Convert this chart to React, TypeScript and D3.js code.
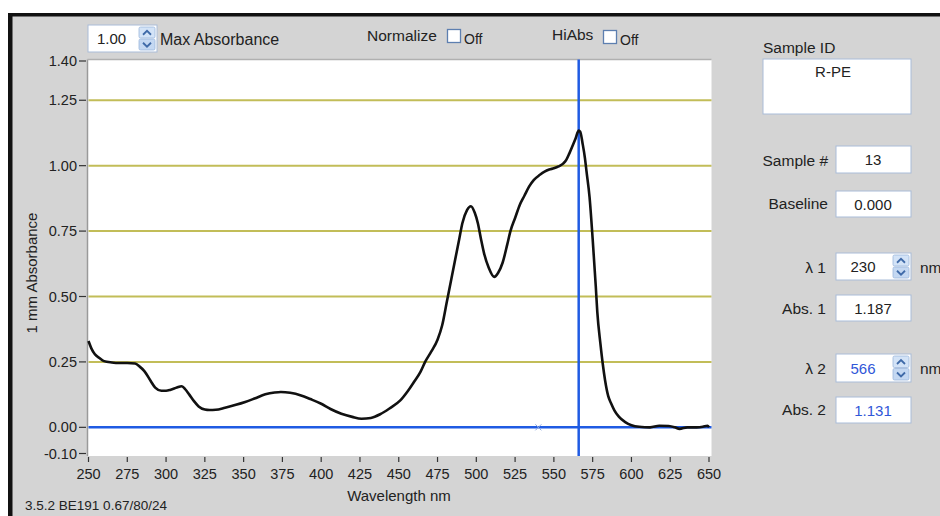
import React from "react";
import * as d3 from "d3";

// ---- data ----
const wavelengths = [
  250, 252, 254, 257, 260, 265, 270, 275, 280, 283, 286, 290, 293, 297, 300, 303, 307, 310, 312, 315,
  318, 321, 325, 328, 332, 338, 345, 351, 357, 364, 370, 374, 380, 387, 393, 400, 406, 413, 420, 426,
  432, 438, 444, 451, 456, 460, 464, 467, 471, 475, 478, 481, 484, 486, 489, 491, 494, 496.5, 499, 501,
  503, 505, 508, 511.5, 514, 517, 520, 522, 525, 528, 531, 534, 537, 541, 544, 547, 550, 553, 556, 558,
  560, 562, 564, 566, 567, 568.5, 570, 571, 573, 575, 577, 578, 580, 581.5, 583, 585, 587, 589, 592, 596,
  600, 605, 612, 618, 624, 628, 631, 636, 642, 646, 649, 650,
];
const absorbance = [
  0.33, 0.3, 0.28, 0.265, 0.253, 0.248, 0.246, 0.246, 0.244, 0.232, 0.215, 0.178, 0.152, 0.14, 0.14, 0.144, 0.152, 0.157, 0.148, 0.125,
  0.1, 0.08, 0.068, 0.066, 0.067, 0.075, 0.086, 0.097, 0.11, 0.126, 0.133, 0.135, 0.132, 0.122, 0.108, 0.09, 0.07, 0.052, 0.04, 0.033,
  0.036, 0.05, 0.072, 0.103, 0.14, 0.175, 0.212, 0.25, 0.29, 0.335, 0.39, 0.48, 0.57, 0.63, 0.72, 0.78, 0.83, 0.845, 0.82, 0.78,
  0.72, 0.665, 0.61, 0.575, 0.59, 0.63, 0.7, 0.75, 0.8, 0.85, 0.885, 0.92, 0.945, 0.965, 0.977, 0.985, 0.99, 0.997, 1.008, 1.022,
  1.047, 1.075, 1.104, 1.134, 1.13, 1.085, 1.03, 0.98, 0.88, 0.72, 0.54, 0.44, 0.32, 0.243, 0.18, 0.12, 0.09, 0.065, 0.04, 0.02,
  0.008, 0.002, 0.0, 0.006, 0.005, 0.0, -0.006, 0.0, 0.0, 0.002, 0.006, 0.0,
];
const yTicks = [1.4, 1.25, 1.0, 0.75, 0.5, 0.25, 0.0, -0.1];
const gridLevels = [0.25, 0.5, 0.75, 1.0, 1.25];
const xTicks = [250, 275, 300, 325, 350, 375, 400, 425, 450, 475, 500, 525, 550, 575, 600, 625, 650];
const cursorWavelength = 566;
const markerWavelength = 540;

const maxAbsorbance = "1.00";
const sampleId = "R-PE";
const sampleNumber = "13";
const baseline = "0.000";
const lambda1 = "230";
const abs1 = "1.187";
const lambda2 = "566";
const abs2 = "1.131";
const footer = "3.5.2 BE191 0.67/80/24";

const FONT = "'Liberation Sans', Arial, sans-serif";
const TXT = "#222";
const BOX_STROKE = "#a9bcd8";

function Spinner({ x, y, w, h }: { x: number; y: number; w: number; h: number }) {
  const hh = h / 2;
  return (
    <g>
      <rect x={x} y={y} width={w} height={hh - 0.5} fill="#d3e3f7" stroke="#9db7dc" strokeWidth={0.8} rx={1.5} />
      <rect x={x} y={y + hh + 0.5} width={w} height={hh - 0.5} fill="#c4d8f2" stroke="#9db7dc" strokeWidth={0.8} rx={1.5} />
      <path
        d={`M${x + w / 2 - 4},${y + hh / 2 + 2} L${x + w / 2},${y + hh / 2 - 2} L${x + w / 2 + 4},${y + hh / 2 + 2}`}
        fill="none" stroke="#3f6aa8" strokeWidth={1.8}
      />
      <path
        d={`M${x + w / 2 - 4},${y + hh + hh / 2 - 1.5} L${x + w / 2},${y + hh + hh / 2 + 2.5} L${x + w / 2 + 4},${y + hh + hh / 2 - 1.5}`}
        fill="none" stroke="#3f6aa8" strokeWidth={1.8}
      />
    </g>
  );
}

function Field({ x, y, w, h, value, cx, color = TXT }: { x: number; y: number; w: number; h: number; value: string; cx: number; color?: string }) {
  return (
    <g>
      <rect x={x} y={y} width={w} height={h} fill="#fff" stroke={BOX_STROKE} strokeWidth={1} />
      <text x={cx} y={y + h / 2 + 5.5} textAnchor="middle" fontSize={15} fill={color} fontFamily={FONT}>
        {value}
      </text>
    </g>
  );
}

export default function App() {
  const x = d3.scaleLinear().domain([250, 650]).range([88.5, 709]);
  const y = d3.scaleLinear().domain([-0.1, 1.4]).range([453.5, 61]);
  const pts = wavelengths.map((w, i) => [w, absorbance[i]] as [number, number]);
  const line = d3
    .line<[number, number]>()
    .x((d) => x(d[0]))
    .y((d) => y(d[1]))
    .curve(d3.curveMonotoneX);

  const plotL = 87.5, plotR = 711.5, plotT = 59.5, plotB = 456;
  const blue = "#1f5be3";

  return (
    <svg width={940} height={516} style={{ position: "absolute", left: 0, top: 0 }} fontFamily={FONT}>
      <rect x={0} y={0} width={940} height={516} fill="#fff" />
      <rect x={8} y={13} width={932} height={503} fill="#d4d4d4" />
      <rect x={8} y={13} width={932} height={3.5} fill="#111" />
      <rect x={8} y={13} width={4.5} height={503} fill="#111" />

      {/* plot area */}
      <rect x={plotL} y={plotT} width={plotR - plotL} height={plotB - plotT} fill="#fff" />
      <line x1={plotL} x2={plotL} y1={plotT} y2={plotB} stroke="#9a9a9a" strokeWidth={1.5} />
      <line x1={plotL} x2={plotR} y1={plotT} y2={plotT} stroke="#b0b0b0" strokeWidth={1.5} />

      {gridLevels.map((g) => (
        <line key={g} x1={plotL + 1} x2={plotR} y1={y(g)} y2={y(g)} stroke="#c2bd58" strokeWidth={2} />
      ))}

      {/* y axis */}
      {yTicks.map((t) => (
        <g key={t}>
          <line x1={79} x2={86} y1={y(t)} y2={y(t)} stroke="#333" strokeWidth={1.2} />
          <text x={77} y={y(t) + 5} textAnchor="end" fontSize={14.5} fill={TXT}>
            {t.toFixed(2)}
          </text>
        </g>
      ))}
      <text transform={`translate(37,273) rotate(-90)`} textAnchor="middle" fontSize={15} fill={TXT}>
        1 mm Absorbance
      </text>

      {/* x axis */}
      {xTicks.map((t) => (
        <g key={t}>
          <line x1={x(t)} x2={x(t)} y1={457} y2={462} stroke="#333" strokeWidth={1.2} />
          <text x={x(t)} y={479} textAnchor="middle" fontSize={14.5} fill={TXT}>
            {t}
          </text>
        </g>
      ))}
      <text x={399} y={501} textAnchor="middle" fontSize={15} fill={TXT}>
        Wavelength nm
      </text>
      <text x={25} y={510} fontSize={12.5} fill={TXT} textLength={142} lengthAdjust="spacingAndGlyphs">
        {footer}
      </text>

      {/* cursor lines */}
      <line x1={plotL + 1} x2={plotR} y1={y(0)} y2={y(0)} stroke={blue} strokeWidth={2.5} />
      <line x1={x(cursorWavelength)} x2={x(cursorWavelength)} y1={plotT} y2={plotB} stroke={blue} strokeWidth={2.5} />
      <g stroke="#8aa6e0" strokeWidth={1}>
        <line x1={x(markerWavelength) - 3} x2={x(markerWavelength) + 3} y1={y(0) - 3} y2={y(0) + 3} />
        <line x1={x(markerWavelength) - 3} x2={x(markerWavelength) + 3} y1={y(0) + 3} y2={y(0) - 3} />
      </g>

      {/* spectrum */}
      <path d={line(pts) || ""} fill="none" stroke="#111" strokeWidth={2.6} strokeLinejoin="round" />

      {/* top controls */}
      <rect x={88} y={25} width={69} height={27} fill="#fff" stroke={BOX_STROKE} strokeWidth={1} />
      <text x={97} y={44} fontSize={15} fill={TXT}>{maxAbsorbance}</text>
      <Spinner x={139} y={27} w={16} h={23} />
      <text x={160} y={45} fontSize={16} fill={TXT}>Max Absorbance</text>

      <text x={367} y={41} fontSize={15.5} fill={TXT}>Normalize</text>
      <rect x={447.5} y={29.5} width={13} height={13} fill="#fff" stroke="#5d7fb0" strokeWidth={1.3} />
      <text x={464} y={44} fontSize={14} fill={TXT}>Off</text>

      <text x={552} y={40} fontSize={15.5} fill={TXT}>HiAbs</text>
      <rect x={603.5} y={30.5} width={13} height={13} fill="#fff" stroke="#5d7fb0" strokeWidth={1.3} />
      <text x={620} y={45} fontSize={14} fill={TXT}>Off</text>

      {/* right panel */}
      <text x={763} y={53} fontSize={15.5} fill={TXT}>Sample ID</text>
      <rect x={763} y={59} width={148} height={55} fill="#fff" stroke={BOX_STROKE} strokeWidth={1} />
      <text x={833} y={77} textAnchor="middle" fontSize={15} fill={TXT}>{sampleId}</text>

      <text x={828} y={166} textAnchor="end" fontSize={15.5} fill={TXT}>Sample #</text>
      <Field x={836} y={146} w={75} h={27} value={sampleNumber} cx={873} />

      <text x={828} y={209} textAnchor="end" fontSize={15.5} fill={TXT}>Baseline</text>
      <Field x={836} y={191} w={75} h={26} value={baseline} cx={873} />

      <text x={826} y={273} textAnchor="end" fontSize={15.5} fill={TXT}>λ 1</text>
      <Field x={836} y={253} w={75} h={27} value={lambda1} cx={863} />
      <Spinner x={893} y={255} w={16} h={23} />
      <text x={920} y={273} fontSize={15.5} fill={TXT}>nm</text>

      <text x={826} y={314} textAnchor="end" fontSize={15.5} fill={TXT}>Abs. 1</text>
      <Field x={836} y={295} w={75} h={26} value={abs1} cx={873} />

      <text x={826} y={374} textAnchor="end" fontSize={15.5} fill={TXT}>λ 2</text>
      <Field x={836} y={354} w={75} h={28} value={lambda2} cx={863} color="#3157d8" />
      <Spinner x={893} y={356} w={16} h={24} />
      <text x={920} y={374} fontSize={15.5} fill={TXT}>nm</text>

      <text x={826} y={415} textAnchor="end" fontSize={15.5} fill={TXT}>Abs. 2</text>
      <Field x={836} y={397} w={75} h={26} value={abs2} cx={873} color="#3157d8" />
    </svg>
  );
}
